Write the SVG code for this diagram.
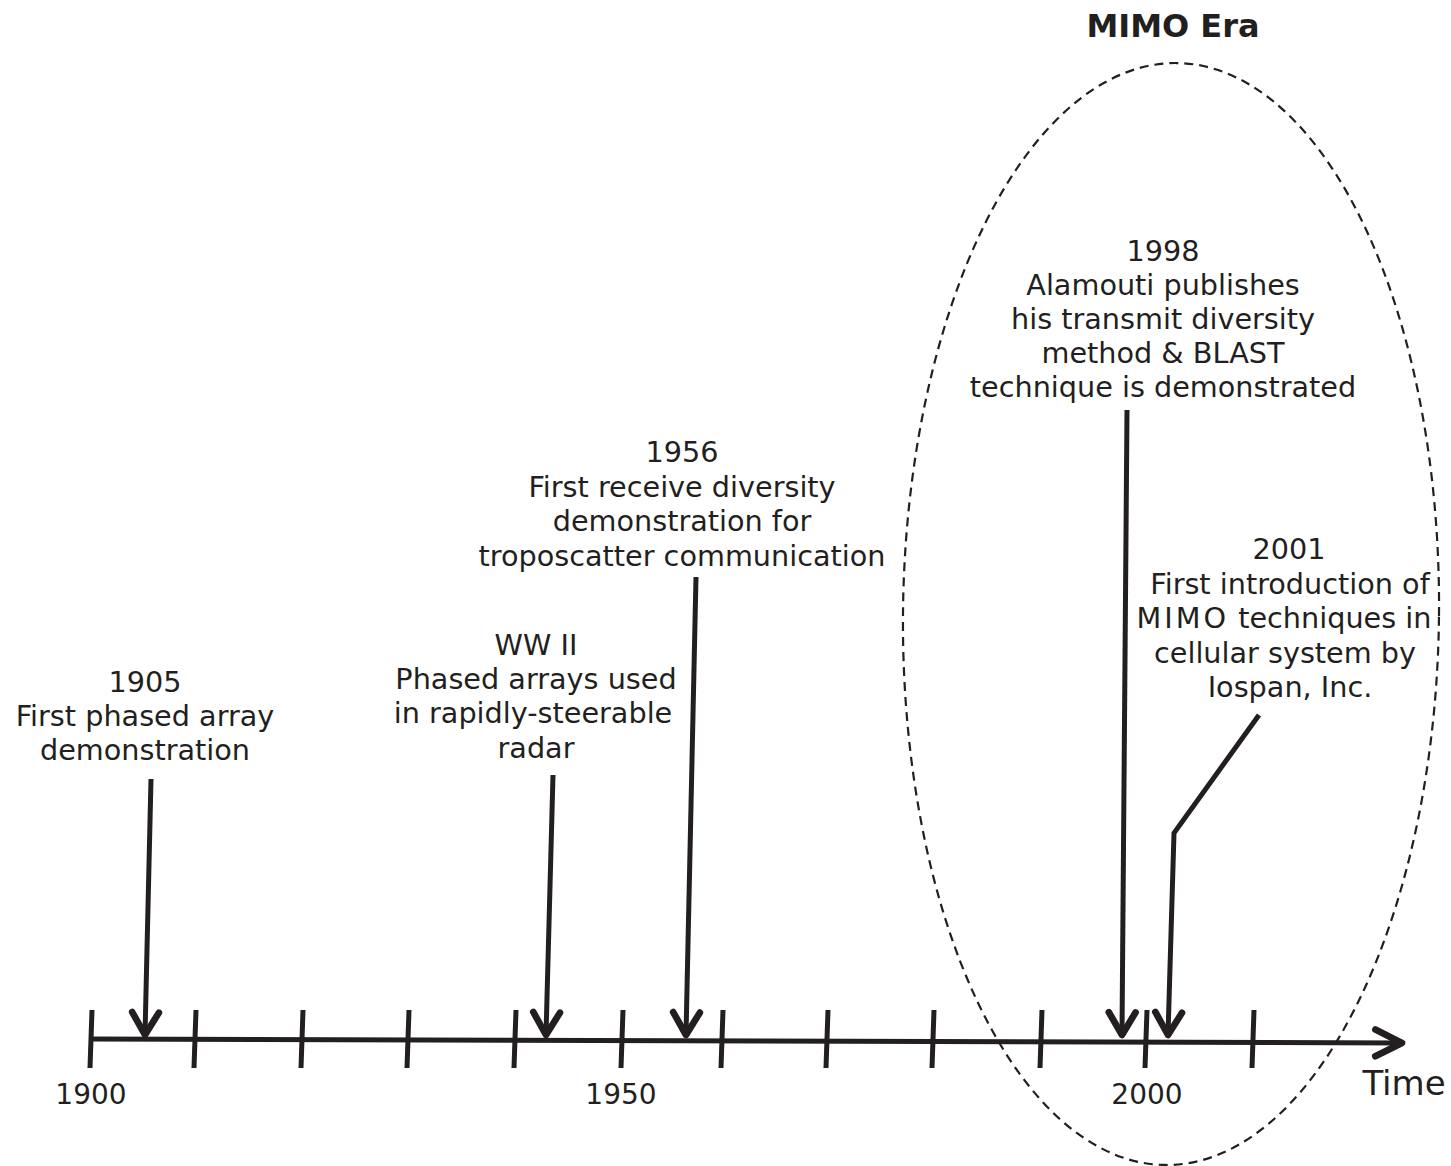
<svg xmlns="http://www.w3.org/2000/svg" width="1451" height="1166" viewBox="0 0 1451 1166">
  <style>
    .lbl { font-family: "DejaVu Sans", "Liberation Sans", sans-serif; font-size: 28.7px; fill: #231f20; text-anchor: middle; }
    .yr { font-family: "DejaVu Sans", "Liberation Sans", sans-serif; font-size: 28px; fill: #231f20; text-anchor: middle; }
    .ln { fill: none; stroke: #231f20; stroke-width: 5; stroke-linejoin: miter; }
    .arr { fill: none; stroke: #231f20; stroke-width: 5; marker-end: url(#chev); }
  </style>
  <defs>
    <marker id="chev" markerUnits="userSpaceOnUse" markerWidth="40" markerHeight="40" viewBox="-25 -15 30 30" refX="0" refY="0" orient="auto">
      <path d="M-17,-10 L0,0 L-17,10" fill="none" stroke="#231f20" stroke-width="5" stroke-linejoin="round" stroke-linecap="round"/>
    </marker>
    <marker id="axhead" markerUnits="userSpaceOnUse" markerWidth="40" markerHeight="40" viewBox="-25 -15 30 30" refX="0" refY="0" orient="auto">
      <path d="M-20,-10 L0,0 L-20,10" fill="none" stroke="#231f20" stroke-width="5" stroke-linejoin="round" stroke-linecap="round"/>
    </marker>
  </defs>
  <rect width="1451" height="1166" fill="#ffffff"/>

  <!-- MIMO era region -->
  <g id="mimo-era">
    <ellipse cx="1171" cy="614" rx="268" ry="551" transform="rotate(0.6 1171 614)" fill="none" stroke="#231f20" stroke-width="2.2" stroke-dasharray="9 6"/>
    <text x="1173" y="37" font-family="DejaVu Sans, sans-serif" font-weight="bold" font-size="32" fill="#231f20" text-anchor="middle">MIMO Era</text>
  </g>

  <!-- time axis with ticks -->
  <g id="axis">
    <path class="ln" d="M90,1039 L1402,1043" marker-end="url(#axhead)"/>
    <g class="ln">
      <path d="M92,1010 L90,1068"/>
      <path d="M196,1010 L194,1068"/>
      <path d="M303,1010 L301,1068"/>
      <path d="M409,1010 L407,1068"/>
      <path d="M516,1010 L514,1068"/>
      <path d="M623,1010 L621,1068"/>
      <path d="M723,1010 L721,1068"/>
      <path d="M828,1010 L826,1068"/>
      <path d="M934,1010 L932,1068"/>
      <path d="M1042,1010 L1040,1068"/>
      <path d="M1147,1010 L1145,1068"/>
      <path d="M1254,1010 L1252,1068"/>
    </g>
    <text class="yr" x="91" y="1104">1900</text>
    <text class="yr" x="621" y="1104">1950</text>
    <text class="yr" x="1147" y="1104">2000</text>
    <text x="1404" y="1095" font-family="DejaVu Sans, sans-serif" font-size="34" fill="#231f20" text-anchor="middle">Time</text>
  </g>

  <!-- events -->
  <g id="event-1905">
    <text class="lbl" x="145" y="692">1905</text>
    <text class="lbl" x="145" y="726">First phased array</text>
    <text class="lbl" x="145" y="760">demonstration</text>
  </g>
  <g id="event-ww2">
    <text class="lbl" x="536" y="655">WW II</text>
    <text class="lbl" x="536" y="689">Phased arrays used</text>
    <text class="lbl" x="533" y="723">in rapidly-steerable</text>
    <text class="lbl" x="536" y="758">radar</text>
  </g>
  <g id="event-1956">
    <text class="lbl" x="682" y="462">1956</text>
    <text class="lbl" x="682" y="497">First receive diversity</text>
    <text class="lbl" x="682" y="531">demonstration for</text>
    <text class="lbl" x="682" y="566">troposcatter communication</text>
  </g>
  <g id="event-1998">
    <text class="lbl" x="1163" y="261">1998</text>
    <text class="lbl" x="1163" y="295">Alamouti publishes</text>
    <text class="lbl" x="1163" y="329">his transmit diversity</text>
    <text class="lbl" x="1163" y="363">method &amp; BLAST</text>
    <text class="lbl" x="1163" y="397">technique is demonstrated</text>
  </g>
  <g id="event-2001">
    <text class="lbl" x="1289" y="559">2001</text>
    <text class="lbl" x="1290" y="594">First introduction of</text>
    <text class="lbl" x="1284" y="628"><tspan letter-spacing="3">MIMO</tspan> techniques in</text>
    <text class="lbl" x="1285" y="663">cellular system by</text>
    <text class="lbl" x="1290" y="697">Iospan, Inc.</text>
  </g>

  <!-- pointers from events to the axis -->
  <g id="connectors">
    <path class="arr" d="M151,779 L145,1035"/>
    <path class="arr" d="M553,775 L546,1035"/>
    <path class="arr" d="M696,577 L686,1035"/>
    <path class="arr" d="M1127,410 L1122,1035"/>
    <path class="arr" d="M1259,715 L1174,833 L1168,1035"/>
  </g>
</svg>
